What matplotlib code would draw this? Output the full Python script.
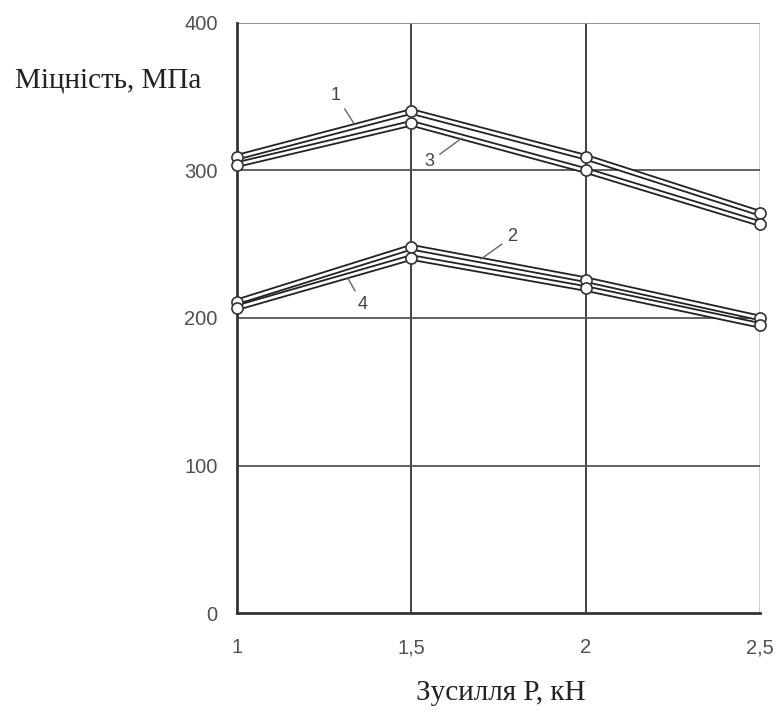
import matplotlib

matplotlib.use("Agg")
import matplotlib.pyplot as plt

force = [1.0, 1.5, 2.0, 2.5]
series_1 = [309, 340, 309, 271]
series_3 = [304, 332, 300, 264]
series_2 = [211, 248, 226, 200]
series_4 = [207, 241, 220, 195]
x_ticks = [1.0, 1.5, 2.0, 2.5]
x_tick_labels = ["1", "1,5", "2", "2,5"]
y_ticks = [0, 100, 200, 300, 400]

SERIF = ["Liberation Serif", "DejaVu Serif"]
SANS = ["Liberation Sans", "DejaVu Sans"]

fig = plt.figure(figsize=(7.79, 7.11), dpi=100)
ax = fig.add_axes([0.3042, 0.1378, 0.6714, 0.8299])
ax.set_xlim(1.0, 2.5)
ax.set_ylim(0, 400)

# grid
for x in [1.5, 2.0]:
    ax.axvline(x, color="#333333", lw=1.3, zorder=1)
ax.axvline(2.5, color="#c8c8c8", lw=1.3, zorder=1)
for y in [100, 200, 300]:
    ax.axhline(y, color="#555555", lw=1.3, zorder=1)
ax.axhline(400, color="#8a8a8a", lw=1.3, zorder=1)

for s in ["top", "right"]:
    ax.spines[s].set_visible(False)
for s in ["left", "bottom"]:
    ax.spines[s].set_color("#333333")
    ax.spines[s].set_linewidth(2)

# hollow double lines with open circle markers
for values in [series_1, series_3, series_2, series_4]:
    ax.plot(force, values, color="#222222", lw=4.6, solid_capstyle="butt", zorder=3)
    ax.plot(force, values, color="white", lw=2.0, zorder=4)
    ax.plot(force, values, ls="none", marker="o", ms=8, mfc="white",
            mec="#333333", mew=1.2, zorder=5, clip_on=False)

# curve numbers with leader lines: (text, label position, point on curve)
labels = [("1", (1.284, 351), (1.335, 332)),
          ("3", (1.553, 306), (1.645, 322)),
          ("2", (1.789, 255), (1.70, 240)),
          ("4", (1.361, 209), (1.318, 227))]
for text, pos, target in labels:
    ax.annotate(text, xy=target, xytext=pos,
                ha="center", va="center", fontsize=13, family=SANS, color="#444444",
                arrowprops=dict(arrowstyle="-", color="#666666", lw=1,
                                shrinkA=2, shrinkB=0), zorder=6)

ax.set_xticks(x_ticks)
ax.set_xticklabels(x_tick_labels)
ax.set_yticks(y_ticks)
ax.tick_params(length=0, labelsize=14.5, labelcolor="#505050")
ax.tick_params(axis="x", pad=18)
ax.tick_params(axis="y", pad=14)
for lab in ax.get_xticklabels() + ax.get_yticklabels():
    lab.set_family(SANS)

fig.text(0.019, 0.887, "Міцність, МПа", fontsize=21, family=SERIF, color="#222222",
         ha="left", va="center")
fig.text(0.643, 0.025, "Зусилля Р, кН", fontsize=21, family=SERIF, color="#222222",
         ha="center", va="center")

fig.savefig("out.png", dpi=100)
